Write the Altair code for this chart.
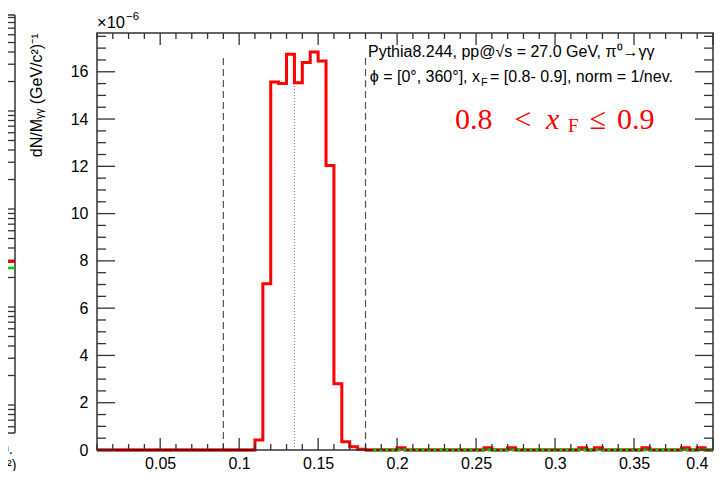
import altair as alt
import pandas as pd

# ---------------- data (values in units of 1e-6) ----------------
bin_left = [round(0.010 + 0.005 * i, 3) for i in range(78)]  # bin grid, width 0.005
counts = [
    0, 0, 0, 0, 0, 0, 0, 0, 0, 0,
    0, 0, 0, 0, 0, 0, 0, 0, 0, 0,
    0.42, 7.03, 15.57, 15.50, 16.74, 15.54, 16.39, 16.84, 16.46, 12.03,
    2.80, 0.35, 0.14, 0.03,
    0, 0, 0, 0, 0.10, 0, 0, 0, 0, 0,
    0, 0, 0, 0, 0, 0.10, 0, 0, 0.10, 0,
    0, 0, 0, 0, 0, 0, 0, 0.10, 0, 0.10,
    0, 0, 0, 0, 0, 0.10, 0, 0, 0, 0,
    0.10, 0, 0.10, 0,
]
green_left = [round(0.185 + 0.005 * i, 3) for i in range(43)]
green_counts = [0] * 43

dashed_x = [0.09, 0.18]
dashed_top = [16.7, 16.7]
dotted_x = [0.135]
dotted_top = [15.5]

x_major = [0.05, 0.1, 0.15, 0.2, 0.25, 0.3, 0.35, 0.4]
x_minor = [round(0.01 * i, 2) for i in range(1, 41) if i % 5 != 0]
y_major = [0, 2, 4, 6, 8, 10, 12, 14, 16]
y_minor = [0.5 * i for i in range(1, 36) if i % 4 != 0]

# neighbouring (log-scale) panel, only its right edge is visible
frag_decades = [1e-4, 1e-3, 1e-2, 1e-1]
frag_minor = [m * d for d in [1e-5, 1e-4, 1e-3, 1e-2, 1e-1] for m in range(2, 10)
              if 5.3e-5 <= m * d <= 0.9]
frag_red = [0.0029]
frag_green = [0.0025]

W, H = 616, 417
FONT = "Liberation Sans"

xs = alt.Scale(domain=[0.01, 0.4], nice=False, zero=False)
ys = alt.Scale(domain=[0, 17.64], nice=False, zero=True)
ls = alt.Scale(type="log", domain=[1e-4, 1], range=[372, -20], nice=False)

x_axis = alt.Axis(
    values=x_major, format=".2~f", ticks=False, domain=False, grid=False,
    labelFontSize=16, labelPadding=18, labelBaseline="alphabetic",
    labelFont=FONT, labelColor="#000",
    labelOffset={"condition": {"test": "datum.value > 0.399", "value": -5}, "value": 0},
    title=None)
y_axis = alt.Axis(
    values=y_major, format="d", ticks=False, domain=False, grid=False,
    labelFontSize=16, labelPadding=9, labelFont=FONT, labelColor="#000",
    title="dN/Mᵧᵧ (GeV/c²)⁻¹", titleAngle=270, titleX=-61, titleY=0,
    titleAlign="right", titleBaseline="middle", titleFontSize=16,
    titleFontWeight="normal", titleFont=FONT, titleColor="#000")

hist_df = pd.DataFrame({"x": bin_left + [0.4], "y": counts + [counts[-1]]})
zero_df = pd.DataFrame({
    "x": [b for b, c in zip(bin_left, counts) if c == 0],
    "x2": [round(b + 0.005, 3) for b, c in zip(bin_left, counts) if c == 0],
    "y": [0 for c in counts if c == 0],
})
green_df = pd.DataFrame({"x": green_left + [0.4], "y": green_counts + [0]})
dashed_df = pd.DataFrame({"x": dashed_x, "y": [0, 0], "y2": dashed_top})
dotted_df = pd.DataFrame({"x": dotted_x, "y": [0], "y2": dotted_top})
one_df = pd.DataFrame({"k": [0]})

xmaj_df = pd.DataFrame({"x": x_major})
xmin_df = pd.DataFrame({"x": x_minor})
ymaj_df = pd.DataFrame({"y": y_major})
ymin_df = pd.DataFrame({"y": y_minor})

X = lambda: alt.X("x:Q", scale=xs, axis=x_axis)
Y = lambda: alt.Y("y:Q", scale=ys, axis=None)
LY = lambda: alt.Y("ly:Q", scale=ls, axis=None)

hist = alt.Chart(hist_df).mark_line(
    interpolate="step-after", color="#ff0000", strokeWidth=3
).encode(x=X(), y=alt.Y("y:Q", scale=ys, axis=y_axis))

dashed = alt.Chart(dashed_df).mark_rule(color="#555", strokeWidth=1.2, strokeDash=[7, 4]).encode(
    x=X(), y=Y(), y2="y2:Q")
dotted = alt.Chart(dotted_df).mark_rule(color="#777", strokeWidth=1, strokeDash=[1, 2]).encode(
    x=X(), y=Y(), y2="y2:Q")

frame = alt.Chart(one_df).mark_rect(fillOpacity=0, stroke="#333", strokeWidth=1.5).encode(
    x=alt.value(0), x2=alt.value(W), y=alt.value(0), y2=alt.value(H))

zero_line = alt.Chart(zero_df).mark_rule(color="#7d0000", strokeWidth=2.5).encode(
    x=X(), x2="x2:Q", y=Y())

green = alt.Chart(green_df).mark_line(
    interpolate="step-after", color="#00cc00", strokeWidth=3, strokeDash=[3, 3]
).encode(x=X(), y=Y())

TC = "#333"
tick_layers = [
    alt.Chart(xmaj_df).mark_rule(color=TC, strokeWidth=1.3).encode(x=X(), y=alt.value(H), y2=alt.value(H - 12)),
    alt.Chart(xmin_df).mark_rule(color=TC, strokeWidth=1.3).encode(x=X(), y=alt.value(H), y2=alt.value(H - 6)),
    alt.Chart(xmaj_df).mark_rule(color=TC, strokeWidth=1.3).encode(x=X(), y=alt.value(0), y2=alt.value(12)),
    alt.Chart(xmin_df).mark_rule(color=TC, strokeWidth=1.3).encode(x=X(), y=alt.value(0), y2=alt.value(6)),
    alt.Chart(ymaj_df).mark_rule(color=TC, strokeWidth=1.3).encode(y=Y(), x=alt.value(0), x2=alt.value(18)),
    alt.Chart(ymin_df).mark_rule(color=TC, strokeWidth=1.3).encode(y=Y(), x=alt.value(0), x2=alt.value(9)),
    alt.Chart(ymaj_df).mark_rule(color=TC, strokeWidth=1.3).encode(y=Y(), x=alt.value(W), x2=alt.value(W - 18)),
    alt.Chart(ymin_df).mark_rule(color=TC, strokeWidth=1.3).encode(y=Y(), x=alt.value(W), x2=alt.value(W - 9)),
]

# fragment of the neighbouring panel at the far left
FX = -82
frag_layers = [
    alt.Chart(one_df).mark_rule(color=TC, strokeWidth=1.5).encode(
        x=alt.value(FX), y=alt.value(-18), y2=alt.value(400)),
    alt.Chart(one_df).mark_rule(color=TC, strokeWidth=1.5).encode(
        x=alt.value(FX - 12), x2=alt.value(FX), y=alt.value(400)),
    alt.Chart(one_df).mark_rule(color=TC, strokeWidth=1.5).encode(
        x=alt.value(FX - 12), x2=alt.value(FX), y=alt.value(-18)),
    alt.Chart(pd.DataFrame({"ly": frag_decades})).mark_rule(color=TC, strokeWidth=1.3).encode(
        y=LY(), x=alt.value(FX), x2=alt.value(FX - 16)),
    alt.Chart(pd.DataFrame({"ly": frag_minor})).mark_rule(color=TC, strokeWidth=1.3).encode(
        y=LY(), x=alt.value(FX), x2=alt.value(FX - 7)),
    alt.Chart(pd.DataFrame({"ly": frag_green})).mark_rule(color="#00cc00", strokeWidth=2.5).encode(
        y=LY(), x=alt.value(FX - 8), x2=alt.value(FX)),
    alt.Chart(pd.DataFrame({"ly": frag_red})).mark_rule(color="#ff0000", strokeWidth=2.5).encode(
        y=LY(), x=alt.value(FX - 8), x2=alt.value(FX)),
]


def txt(s, x, y, size=16, color="#000", align="left", font=FONT, style="normal", baseline="alphabetic"):
    return alt.Chart(one_df).mark_text(
        text=s, fontSize=size, color=color, align=align, font=font,
        fontStyle=style, baseline=baseline, fontWeight="normal"
    ).encode(x=alt.value(x), y=alt.value(y))


texts = [
    txt("×10", 0, -5, size=16.5),
    txt("−6", 29, -13, size=11.5),
    txt("Pythia8.244, pp@√s = 27.0 GeV, π⁰→γγ", 271, 24),
    txt("ϕ = [0°, 360°], x", 383, 49, align="right"),
    txt("F", 384, 53, size=11),
    txt("= [0.8- 0.9], norm = 1/nev.", 393, 49),
    txt("0.8", 358, 96, size=30, color="#ff0000", font="Liberation Serif"),
    txt("<", 426, 96, size=30, color="#ff0000", font="Liberation Serif", align="center"),
    txt("x", 449, 96, size=30, color="#ff0000", font="Liberation Serif", style="italic"),
    txt("F", 471, 99, size=19, color="#ff0000", font="Liberation Serif"),
    txt("≤", 501, 96, size=30, color="#ff0000", font="Liberation Serif", align="center"),
    txt("0.9", 520, 96, size=30, color="#ff0000", font="Liberation Serif"),
    txt("0.", -84, 421, size=15, align="right"),
    txt("c²)", -97, 437, size=14),
]

chart = alt.layer(
    dashed, dotted, hist, frame, zero_line, green, *tick_layers, *frag_layers, *texts
).resolve_scale(y="independent").properties(
    width=W, height=H,
    padding={"left": 89, "top": 25, "right": 6, "bottom": 21},
    autosize=alt.AutoSizeParams(type="none"),
    background="white",
).configure_view(stroke="transparent")

chart.save("out.html", embed_options={"renderer": "svg", "actions": False})
